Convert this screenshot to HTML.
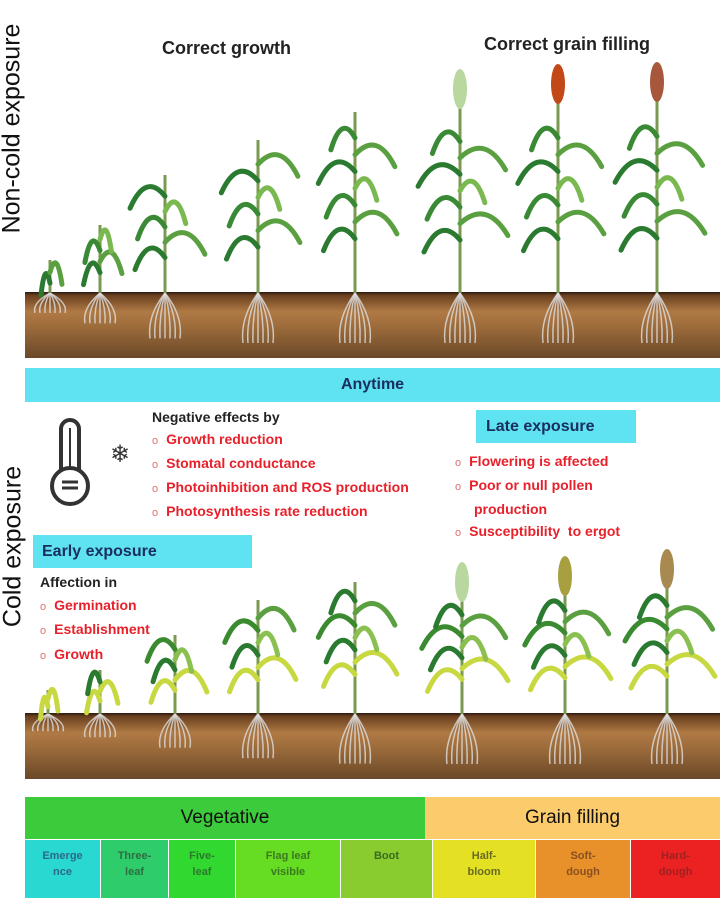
<!DOCTYPE html>
<html><head><meta charset="utf-8"><style>
body{margin:0;width:720px;height:898px;overflow:hidden;background:#fff;font-family:"Liberation Sans",sans-serif;position:relative}
.a{position:absolute}
.t{font-weight:bold;font-size:14px;color:#222;white-space:nowrap}
.r{color:#e8202a}
.r span{color:#e07070;font-weight:normal;font-size:11px;margin-right:8px}
.cell{position:absolute;top:840px;height:58px;font-size:11px;font-weight:bold;text-align:center;line-height:16px;padding-top:8px;box-sizing:border-box}
</style></head><body>
<svg class="a" style="left:0;top:0" width="720" height="898" id="s">
<defs>
<linearGradient id="soil" x1="0" y1="0" x2="0" y2="1">
<stop offset="0" stop-color="#2a1a10"/><stop offset="0.05" stop-color="#6a4020"/><stop offset="0.3" stop-color="#b07a45"/><stop offset="0.55" stop-color="#9a6a3a"/><stop offset="1" stop-color="#6a4828"/>
</linearGradient>
</defs>
<rect x="25" y="292" width="695" height="66" fill="url(#soil)"/>
<rect x="25" y="713" width="695" height="66" fill="url(#soil)"/>
<g fill="none" stroke="#333" stroke-width="4">
<rect x="61" y="420" width="18" height="62" rx="9"/>
<circle cx="70" cy="486" r="18" fill="#fff"/>
<line x1="62" y1="482" x2="78" y2="482" stroke-width="3"/><line x1="62" y1="488" x2="78" y2="488" stroke-width="3"/>
<line x1="70" y1="428" x2="70" y2="470" stroke-width="2"/>
</g>
<text x="110" y="462" font-size="24" fill="#333">❄</text>
</svg>
<div class="a t" style="left:-118px;top:114px;transform:rotate(-90deg);font-size:25px;font-weight:normal;color:#111;width:260px;text-align:center">Non-cold exposure</div>
<div class="a t" style="left:-82px;top:532px;transform:rotate(-90deg);font-size:25px;font-weight:normal;color:#111;width:190px;text-align:center">Cold exposure</div>
<div class="a t" style="left:162px;top:38px;font-size:18px">Correct growth</div>
<div class="a t" style="left:484px;top:34px;font-size:18px">Correct grain filling</div>
<div class="a" style="left:25px;top:368px;width:695px;height:34px;background:#5fe3f2;text-align:center;line-height:34px;font-weight:bold;font-size:16px;color:#1a2f60">Anytime</div>
<div class="a t" style="left:152px;top:406px;line-height:22px">Negative effects by<br>
<div class="r"><span>o</span>Growth reduction</div><div class="r"><span>o</span>Stomatal conductance</div><div class="r"><span>o</span>Photoinhibition and ROS production</div><div class="r"><span>o</span>Photosynthesis rate reduction</div></div>
<div class="a" style="left:476px;top:410px;width:160px;height:33px;background:#5fe3f2;line-height:33px;font-weight:bold;font-size:16px;color:#1a2f60;padding-left:10px;box-sizing:border-box">Late exposure</div>
<div class="a t" style="left:455px;top:450px;line-height:22px">
<div class="r"><span>o</span>Flowering is affected</div><div class="r"><span>o</span>Poor or null pollen</div><div class="r" style="padding-left:19px">production</div><div class="r"><span>o</span>Susceptibility&nbsp; to ergot</div></div>
<div class="a" style="left:33px;top:535px;width:219px;height:33px;background:#5fe3f2;line-height:33px;font-weight:bold;font-size:16px;color:#1a2f60;padding-left:9px;box-sizing:border-box">Early exposure</div>
<div class="a t" style="left:40px;top:571px;line-height:22.5px">Affection in
<div class="r"><span>o</span>Germination</div><div class="r"><span>o</span>Establishment</div><div class="r"><span>o</span>Growth</div></div>
<div class="a" style="left:25px;top:797px;width:400px;height:42px;background:#3ccb3a;text-align:center;line-height:42px;font-size:19px;color:#111">Vegetative</div>
<div class="a" style="left:425px;top:797px;width:295px;height:42px;background:#fccb6c;text-align:center;line-height:42px;font-size:19px;color:#111">Grain filling</div>
<div class="cell" style="left:25px;width:75px;background:#2ad8d2;color:#2a6a88">Emerge<br>nce</div>
<div class="cell" style="left:101px;width:67px;background:#2fcc6c;color:#2a7040">Three-<br>leaf</div>
<div class="cell" style="left:169px;width:66px;background:#30d830;color:#2a7a2a">Five-<br>leaf</div>
<div class="cell" style="left:236px;width:104px;background:#66dc22;color:#3a7a20">Flag leaf<br>visible</div>
<div class="cell" style="left:341px;width:91px;background:#88cc30;color:#3a6a20">Boot</div>
<div class="cell" style="left:433px;width:102px;background:#e4e124;color:#6a6a20">Half-<br>bloom</div>
<div class="cell" style="left:536px;width:94px;background:#e8902a;color:#8a5020">Soft-<br>dough</div>
<div class="cell" style="left:631px;width:89px;background:#ec2222;color:#a02020">Hard-<br>dough</div>
<script>
var s=document.getElementById('s'),h='';
function plant(x,g,top,n,span,head,lc,yl){
 var rl=Math.min(50,(g-top)*0.3+10);
 for(var k=-3;k<=3;k++){h+='<path d="M'+x+' '+g+'Q'+(x+k*6)+' '+(g+rl*0.5)+' '+(x+k*5)+' '+(g+rl)+'" stroke="#ddd" stroke-width="1.5" fill="none" opacity="0.8"/>';}
 h+='<line x1="'+x+'" y1="'+g+'" x2="'+x+'" y2="'+top+'" stroke="#7a9a50" stroke-width="3"/>';
 for(var i=0;i<n;i++){
  var y=g-(g-top)*(0.3+0.65*i/Math.max(n,1))*(head?0.85:1);var d=(i%2?1:-1);var w=span*(0.75+0.25*Math.sin(i*1.7));
  var c=(yl&&i<2)?'#c8d840':lc[i%lc.length];
  h+='<path d="M'+x+' '+y+'Q'+(x+d*w*0.55)+' '+(y-24)+' '+(x+d*w)+' '+(y+12)+'" stroke="'+c+'" stroke-width="5" fill="none" stroke-linecap="round"/>';
 }
 if(head)h+='<ellipse cx="'+x+'" cy="'+(top+4)+'" rx="7" ry="20" fill="'+head+'"/>';
}
var L=['#2a7a30','#5aa040','#3a8a35','#7ab850'];
var P=[[50,260,2,12],[100,225,4,22],[165,175,5,40],[258,140,6,42],[355,112,7,42],[460,85,7,48,'#b8d8a0'],[558,80,7,46,'#c24818'],[657,78,7,48,'#a8583a']];
P.forEach(function(p){plant(p[0],293,p[1],p[2],p[3],p[4],L,false)});
var Q=[[48,690,2,10],[100,670,3,18],[175,635,5,32,null],[258,600,6,38],[355,582,7,42],[462,578,7,46,'#b8d8a0'],[565,572,7,46,'#a8a040'],[667,565,7,48,'#a88a50']];
Q.forEach(function(p){plant(p[0],714,p[1],p[2],p[3],p[4],['#3a8a30','#5aa040','#2a7a30','#8ac050'],true)});
s.insertAdjacentHTML('beforeend',h);
</script>
</body></html>
